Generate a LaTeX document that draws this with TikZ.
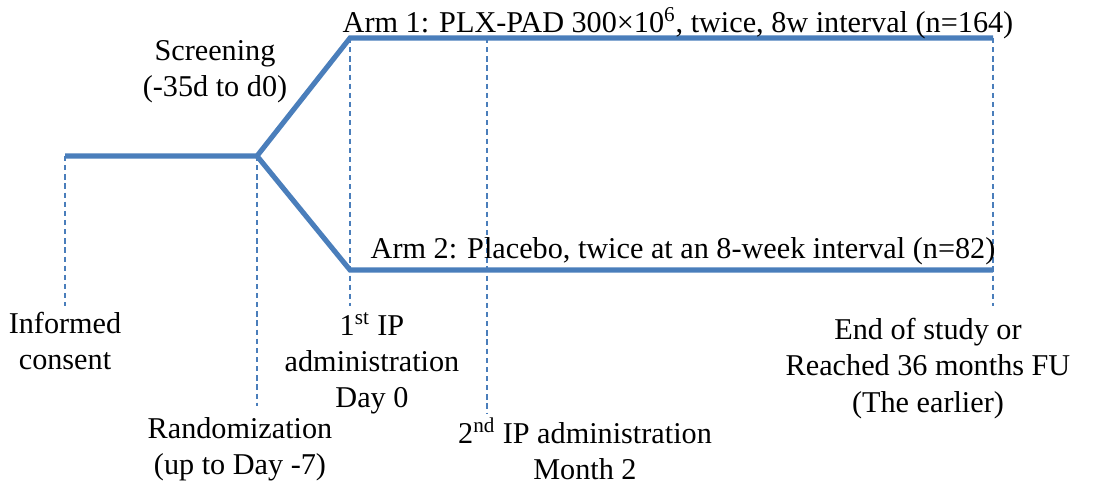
\documentclass[tikz,border=0pt]{standalone}
\usepackage{fontspec}
\setmainfont{Liberation Serif}
\usepackage{tikz}
\usetikzlibrary{positioning, calc}
\definecolor{myblue}{RGB}{74,126,187}
\definecolor{mydark}{RGB}{0,0,0}
\tikzset{
  armline/.style={line width=2.9pt, color=myblue, line join=miter},
  guide/.style={line width=0.6pt, color=myblue, dash pattern=on 3pt off 2.2pt},
  lbl/.style={align=center, inner sep=0pt, anchor=north,
    font=\fontsize{17.2}{20.6}\selectfont, text=mydark}
}
\begin{document}
\begin{tikzpicture}[x=0.02cm, y=-0.02cm]
  \useasboundingbox (0,0) rectangle (1108,487);
  % timeline points
  \coordinate (ic)   at (65,156);
  \coordinate (rnd)  at (257,156);
  \coordinate (a1s)  at (350,38);
  \coordinate (a1e)  at (993,38);
  \coordinate (a2s)  at (350,270);
  \coordinate (a2e)  at (993,270);
  \coordinate (ip2)  at (487,38);

  % guide ends
  \coordinate (icb)  at (65,306);
  \coordinate (rndb) at (257,406);
  \coordinate (ip1b) at (350,306);
  \coordinate (ip2b) at (487,414);
  \coordinate (endb) at (993,306);

  % dashed guides
  \draw[guide] (ic) -- (icb);
  \draw[guide] (rnd) -- (rndb);
  \draw[guide] (a1s) -- (ip1b);
  \draw[guide] (ip2) -- (ip2b);
  \draw[guide] (a1e) -- (endb);

  % arms
  \draw[armline] (ic) -- (rnd) -- (a1s) -- (a1e);
  \draw[armline] (rnd) -- (a2s) -- (a2e);

  % labels
  \node[lbl] (scr)  at (215,40)  {Screening\\(-35d to d0)};
  \node[lbl] (arm1) at (678,7)   {Arm 1: PLX-PAD 300×10\textsuperscript{6}, twice, 8w interval (n=164)};
  \node[lbl] (arm2) at (683,237) {Arm 2: Placebo, twice at an 8-week interval (n=82)};
  \node[lbl] (cons) at (65,312)  {Informed\\consent};
  \node[lbl] (ip1)  at (372,312) {1\textsuperscript{st} IP\\administration\\Day 0};
  \node[lbl] (rand) at (240,417) {Randomization\\(up to Day -7)};
  \node[lbl] (ip2t) at (585,417) {2\textsuperscript{nd} IP administration\\Month 2};
  \node[lbl] (eos)  at (928,318) {End of study or\\Reached 36 months FU\\(The earlier)};
\end{tikzpicture}
\end{document}
